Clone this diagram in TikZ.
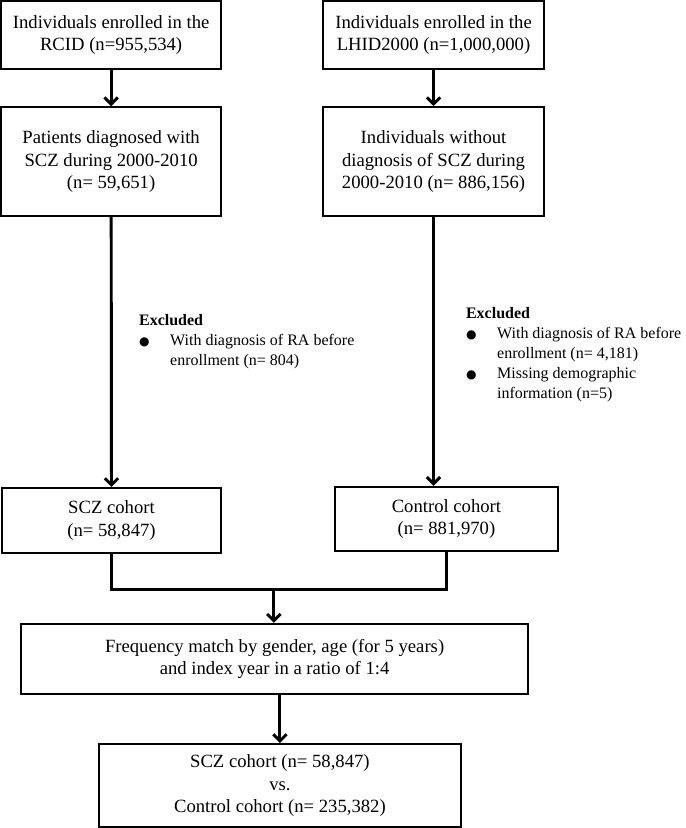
\documentclass[tikz,border=0pt]{standalone}
\usepackage{fontspec}
\setmainfont{Liberation Serif}
\newfontfamily\symfont{DejaVu Sans}
\usetikzlibrary{arrows.meta}
\newcommand{\bul}{\makebox[0.82cm][l]{{\symfont\fontsize{9}{0}\selectfont ●}}}
\newcommand{\ind}{\hspace*{0.82cm}}

\begin{document}
\begin{tikzpicture}[x=1cm,y=1cm,
    box/.style={draw, line width=1.5pt, align=center, inner sep=2pt, font=\fontsize{14}{17}\selectfont},
    note/.style={align=left, inner sep=0pt, anchor=north west, font=\fontsize{12}{15}\selectfont},
    >={Straight Barb[length=5pt,width=10pt]}]
    \useasboundingbox (0,0) rectangle (18.06,-21.83);

    \node[box, minimum width=5.8cm, minimum height=1.79cm] (rcid) at (2.93,-0.92) {Individuals enrolled in the\\RCID (n=955,534)};
    \node[box, minimum width=5.83cm, minimum height=1.79cm] (lhid) at (11.43,-0.92) {Individuals enrolled in the\\LHID2000 (n=1,000,000)};
    \node[box, minimum width=5.8cm, minimum height=2.87cm] (pat) at (2.93,-4.26) {Patients diagnosed with\\SCZ during 2000-2010\\(n= 59,651)};
    \node[box, minimum width=5.83cm, minimum height=2.87cm] (nopat) at (11.43,-4.26) {Individuals without\\diagnosis of SCZ during\\2000-2010 (n= 886,156)};

    \node[note] (exl) at (3.66,-8.27) {\textbf{Excluded}\\\bul With diagnosis of RA before\\\ind enrollment (n= 804)};
    \node[note] (exr) at (12.28,-8.09) {\textbf{Excluded}\\\bul With diagnosis of RA before\\\ind enrollment (n= 4,181)\\\bul Missing demographic\\\ind information (n=5)};

    \node[box, minimum width=5.77cm, minimum height=1.71cm] (scz) at (2.94,-13.72) {SCZ cohort\\(n= 58,847)};
    \node[box, minimum width=5.88cm, minimum height=1.69cm] (ctl) at (11.77,-13.68) {Control cohort\\(n= 881,970)};
    \node[box, minimum width=13.37cm, minimum height=1.85cm] (match) at (7.24,-17.37) {Frequency match by gender, age (for 5 years)\\and index year in a ratio of 1:4};
    \node[box, minimum width=9.54cm, minimum height=2.19cm] (res) at (7.38,-20.71) {SCZ cohort (n= 58,847)\\vs.\\Control cohort (n= 235,382)};

    \coordinate (join) at (7.22,-15.55);

    \draw[->, line width=2.2pt] (rcid) -- (pat);
    \draw[->, line width=2.2pt] (lhid) -- (nopat);
    \draw[->, line width=2.2pt] (pat) -- (scz);
    \draw[->, line width=2.2pt] (nopat.south) -- (nopat.south |- ctl.north);
    \draw[line width=2.2pt] (scz.south) |- (join) -| (ctl.south);
    \draw[->, line width=2.2pt] (join) -- (join |- match.north);
    \draw[->, line width=2.2pt] (res.north |- match.south) -- (res.north);
\end{tikzpicture}
\end{document}
